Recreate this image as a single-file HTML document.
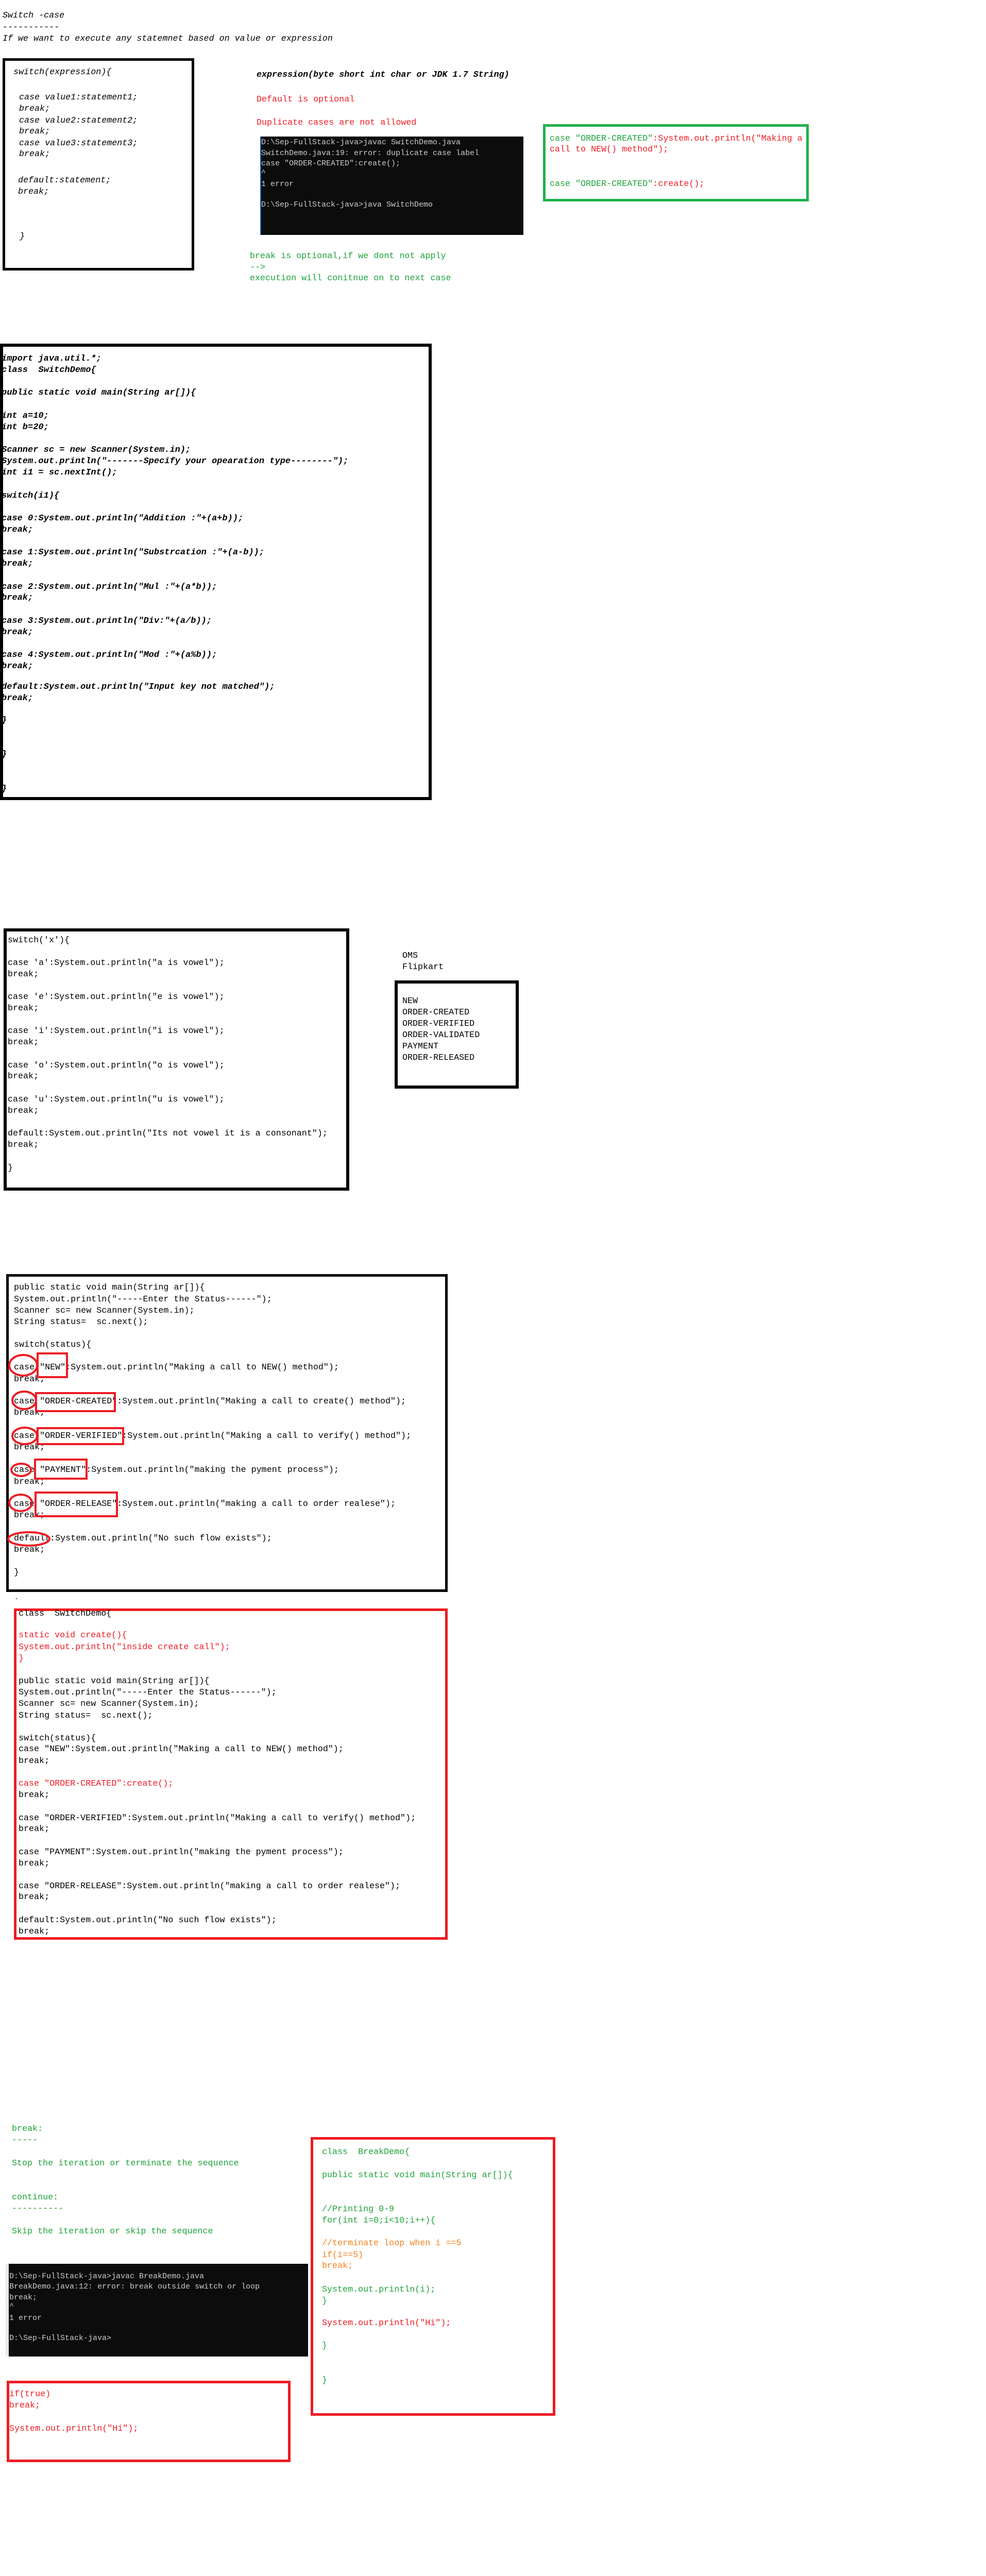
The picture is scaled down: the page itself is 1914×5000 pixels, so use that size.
<!DOCTYPE html>
<html><head><meta charset="utf-8">
<style>
html,body{margin:0;padding:0;background:#fff;}
body{width:1914px;height:5000px;position:relative;overflow:hidden;}
.t{position:absolute;white-space:pre;font-family:"Liberation Mono",monospace;font-size:16.7px;line-height:22px;color:#000;}
.i{font-style:italic;}
.b{font-weight:bold;}
.r{color:#ed1c24;}
.g{color:#1fa33a;}
.o{color:#f58220;}
.box{position:absolute;box-sizing:border-box;}
.term{position:absolute;background:#0c0c0c;}
.tt{position:absolute;white-space:pre;font-family:"Liberation Mono",monospace;font-size:15px;line-height:20px;color:#cccccc;}
.s2{font-size:17px;font-style:italic;font-weight:bold;}
.s3{font-size:16.7px;}
</style></head><body>

<!-- Section 1 -->
<div class="t i" style="left:5px;top:20px">Switch -case</div>
<div class="t" style="left:5px;top:43px">-----------</div>
<div class="t i" style="left:5px;top:65px">If we want to execute any statemnet based on value or expression</div>

<div class="box" style="left:5px;top:113px;width:372px;height:412px;border:5px solid #000;"></div>
<div class="t i" style="left:26px;top:130px">switch(expression){</div>
<div class="t i" style="left:37px;top:179px">case value1:statement1;</div>
<div class="t i" style="left:37px;top:201px">break;</div>
<div class="t i" style="left:37px;top:224px">case value2:statement2;</div>
<div class="t i" style="left:37px;top:245px">break;</div>
<div class="t i" style="left:37px;top:268px">case value3:statement3;</div>
<div class="t i" style="left:37px;top:289px">break;</div>
<div class="t i" style="left:35px;top:340px">default:statement;</div>
<div class="t i" style="left:35px;top:362px">break;</div>
<div class="t i" style="left:38px;top:449px">}</div>

<div class="t i b" style="left:498px;top:135px">expression(byte short int char or JDK 1.7 String)</div>
<div class="t r" style="left:498px;top:183px">Default is optional</div>
<div class="t r" style="left:498px;top:228px">Duplicate cases are not allowed</div>

<div class="term" style="left:506px;top:265px;width:510px;height:191px;"></div>
<div style="position:absolute;left:505px;top:265px;width:2px;height:191px;background:#1e5fb4"></div>
<div class="tt" style="left:507px;top:267px">D:\Sep-FullStack-java&gt;javac SwitchDemo.java</div>
<div class="tt" style="left:507px;top:288px">SwitchDemo.java:19: error: duplicate case label</div>
<div class="tt" style="left:507px;top:308px">case "ORDER-CREATED":create();</div>
<div class="tt" style="left:507px;top:326px">^</div>
<div class="tt" style="left:507px;top:348px">1 error</div>
<div class="tt" style="left:507px;top:388px">D:\Sep-FullStack-java&gt;java SwitchDemo</div>

<div class="box" style="left:1054px;top:241px;width:516px;height:150px;border:5px solid #22b14c;"></div>
<div class="t" style="left:1067px;top:259px"><span class="g">case "ORDER-CREATED"</span><span class="r">:System.out.println("Making a</span></div>
<div class="t r" style="left:1067px;top:280px">call to NEW() method");</div>
<div class="t" style="left:1067px;top:347px"><span class="g">case "ORDER-CREATED"</span><span class="r">:create();</span></div>

<div class="t g" style="left:485px;top:487px">break is optional,if we dont not apply</div>
<div class="t g" style="left:485px;top:509px">--&gt;</div>
<div class="t g" style="left:485px;top:530px">execution will conitnue on to next case</div>

<!-- Section 2 -->
<div class="box" style="left:0px;top:667px;width:838px;height:886px;border:6px solid #000;"></div>
<div class="t s2" style="left:3px;top:686px">import java.util.*;</div>
<div class="t s2" style="left:3px;top:708px">class  SwitchDemo{</div>
<div class="t s2" style="left:3px;top:752px">public static void main(String ar[]){</div>
<div class="t s2" style="left:3px;top:797px">int a=10;</div>
<div class="t s2" style="left:3px;top:819px">int b=20;</div>
<div class="t s2" style="left:3px;top:863px">Scanner sc = new Scanner(System.in);</div>
<div class="t s2" style="left:3px;top:885px">System.out.println("-------Specify your opearation type--------");</div>
<div class="t s2" style="left:3px;top:907px">int i1 = sc.nextInt();</div>
<div class="t s2" style="left:3px;top:952px">switch(i1){</div>
<div class="t s2" style="left:3px;top:996px">case 0:System.out.println("Addition :"+(a+b));</div>
<div class="t s2" style="left:3px;top:1018px">break;</div>
<div class="t s2" style="left:3px;top:1062px">case 1:System.out.println("Substrcation :"+(a-b));</div>
<div class="t s2" style="left:3px;top:1084px">break;</div>
<div class="t s2" style="left:3px;top:1129px">case 2:System.out.println("Mul :"+(a*b));</div>
<div class="t s2" style="left:3px;top:1150px">break;</div>
<div class="t s2" style="left:3px;top:1195px">case 3:System.out.println("Div:"+(a/b));</div>
<div class="t s2" style="left:3px;top:1217px">break;</div>
<div class="t s2" style="left:3px;top:1261px">case 4:System.out.println("Mod :"+(a%b));</div>
<div class="t s2" style="left:3px;top:1283px">break;</div>
<div class="t s2" style="left:3px;top:1323px">default:System.out.println("Input key not matched");</div>
<div class="t s2" style="left:3px;top:1345px">break;</div>
<div class="t s2" style="left:3px;top:1388px">}</div>
<div class="t s2" style="left:3px;top:1454px">}</div>
<div class="t s2" style="left:3px;top:1521px">}</div>

<!-- Section 3 -->
<div class="box" style="left:7px;top:1802px;width:671px;height:509px;border:6px solid #000;"></div>
<div class="t s3" style="left:15px;top:1815px">switch('x'){</div>
<div class="t s3" style="left:15px;top:1859px">case 'a':System.out.println("a is vowel");</div>
<div class="t s3" style="left:15px;top:1881px">break;</div>
<div class="t s3" style="left:15px;top:1925px">case 'e':System.out.println("e is vowel");</div>
<div class="t s3" style="left:15px;top:1947px">break;</div>
<div class="t s3" style="left:15px;top:1991px">case 'i':System.out.println("i is vowel");</div>
<div class="t s3" style="left:15px;top:2013px">break;</div>
<div class="t s3" style="left:15px;top:2058px">case 'o':System.out.println("o is vowel");</div>
<div class="t s3" style="left:15px;top:2079px">break;</div>
<div class="t s3" style="left:15px;top:2124px">case 'u':System.out.println("u is vowel");</div>
<div class="t s3" style="left:15px;top:2146px">break;</div>
<div class="t s3" style="left:15px;top:2190px">default:System.out.println("Its not vowel it is a consonant");</div>
<div class="t s3" style="left:15px;top:2212px">break;</div>
<div class="t s3" style="left:15px;top:2257px">}</div>

<div class="t s3" style="left:781px;top:1845px">OMS</div>
<div class="t s3" style="left:781px;top:1867px">Flipkart</div>
<div class="box" style="left:766px;top:1903px;width:241px;height:210px;border:6px solid #000;"></div>
<div class="t s3" style="left:781px;top:1933px">NEW</div>
<div class="t s3" style="left:781px;top:1955px">ORDER-CREATED</div>
<div class="t s3" style="left:781px;top:1977px">ORDER-VERIFIED</div>
<div class="t s3" style="left:781px;top:1999px">ORDER-VALIDATED</div>
<div class="t s3" style="left:781px;top:2021px">PAYMENT</div>
<div class="t s3" style="left:781px;top:2043px">ORDER-RELEASED</div>

<!-- Section 4 -->
<div class="box" style="left:12px;top:2473px;width:857px;height:617px;border:5px solid #000;"></div>
<div class="t" style="left:27px;top:2489px">public static void main(String ar[]){</div>
<div class="t" style="left:27px;top:2512px">System.out.println("-----Enter the Status------");</div>
<div class="t" style="left:27px;top:2534px">Scanner sc= new Scanner(System.in);</div>
<div class="t" style="left:27px;top:2556px">String status=  sc.next();</div>
<div class="t" style="left:27px;top:2600px">switch(status){</div>
<div class="t" style="left:27px;top:2644px">case "NEW":System.out.println("Making a call to NEW() method");</div>
<div class="t" style="left:27px;top:2667px">break;</div>
<div class="t" style="left:27px;top:2710px">case "ORDER-CREATED":System.out.println("Making a call to create() method");</div>
<div class="t" style="left:27px;top:2732px">break;</div>
<div class="t" style="left:27px;top:2777px">case "ORDER-VERIFIED":System.out.println("Making a call to verify() method");</div>
<div class="t" style="left:27px;top:2799px">break;</div>
<div class="t" style="left:27px;top:2843px">case "PAYMENT":System.out.println("making the pyment process");</div>
<div class="t" style="left:27px;top:2866px">break;</div>
<div class="t" style="left:27px;top:2909px">case "ORDER-RELEASE":System.out.println("making a call to order realese");</div>
<div class="t" style="left:27px;top:2931px">break;</div>
<div class="t" style="left:27px;top:2976px">default:System.out.println("No such flow exists");</div>
<div class="t" style="left:27px;top:2998px">break;</div>
<div class="t" style="left:27px;top:3042px">}</div>

<svg style="position:absolute;left:0;top:0" width="1914" height="5000">
<g fill="none" stroke="#ed1c24" stroke-width="4">
<rect x="73" y="2627" width="57" height="46"/>
<rect x="70" y="2704" width="153" height="35"/>
<rect x="73" y="2772" width="166" height="31"/>
<rect x="68" y="2833" width="100" height="37"/>
<rect x="69" y="2897" width="158" height="46"/>
<ellipse cx="45" cy="2650" rx="27" ry="20"/>
<ellipse cx="47" cy="2718" rx="23" ry="17"/>
<ellipse cx="48" cy="2787" rx="24" ry="16"/>
<ellipse cx="41" cy="2853" rx="19" ry="12"/>
<ellipse cx="40" cy="2917" rx="22" ry="16"/>
<ellipse cx="56" cy="2987" rx="40" ry="13"/>
</g>
</svg>

<!-- Section 5 -->
<div class="t" style="left:27px;top:3100px">`</div>
<div class="box" style="left:27px;top:3122px;width:842px;height:643px;border:5px solid #ed1c24;"></div>
<div class="t" style="left:36px;top:3122px">class  SwitchDemo{</div>
<div class="t r" style="left:36px;top:3164px">static void create(){</div>
<div class="t r" style="left:36px;top:3187px">System.out.println("inside create call");</div>
<div class="t r" style="left:36px;top:3209px">}</div>
<div class="t" style="left:36px;top:3253px">public static void main(String ar[]){</div>
<div class="t" style="left:36px;top:3275px">System.out.println("-----Enter the Status------");</div>
<div class="t" style="left:36px;top:3297px">Scanner sc= new Scanner(System.in);</div>
<div class="t" style="left:36px;top:3320px">String status=  sc.next();</div>
<div class="t" style="left:36px;top:3364px">switch(status){</div>
<div class="t" style="left:36px;top:3385px">case "NEW":System.out.println("Making a call to NEW() method");</div>
<div class="t" style="left:36px;top:3408px">break;</div>
<div class="t r" style="left:36px;top:3452px">case "ORDER-CREATED":create();</div>
<div class="t" style="left:36px;top:3474px">break;</div>
<div class="t" style="left:36px;top:3519px">case "ORDER-VERIFIED":System.out.println("Making a call to verify() method");</div>
<div class="t" style="left:36px;top:3540px">break;</div>
<div class="t" style="left:36px;top:3585px">case "PAYMENT":System.out.println("making the pyment process");</div>
<div class="t" style="left:36px;top:3607px">break;</div>
<div class="t" style="left:36px;top:3651px">case "ORDER-RELEASE":System.out.println("making a call to order realese");</div>
<div class="t" style="left:36px;top:3672px">break;</div>
<div class="t" style="left:36px;top:3717px">default:System.out.println("No such flow exists");</div>
<div class="t" style="left:36px;top:3739px">break;</div>

<!-- Section 6 -->
<div class="t g" style="left:23px;top:4122px">break:</div>
<div class="t g" style="left:23px;top:4144px">-----</div>
<div class="t g" style="left:23px;top:4189px">Stop the iteration or terminate the sequence</div>
<div class="t g" style="left:23px;top:4255px">continue:</div>
<div class="t g" style="left:23px;top:4277px">----------</div>
<div class="t g" style="left:23px;top:4321px">Skip the iteration or skip the sequence</div>

<div class="term" style="left:17px;top:4394px;width:581px;height:180px;"></div>
<div style="position:absolute;left:11px;top:4394px;width:6px;height:180px;background:#e8e8e8"></div>
<div class="tt" style="left:18px;top:4409px">D:\Sep-FullStack-java&gt;javac BreakDemo.java</div>
<div class="tt" style="left:18px;top:4429px">BreakDemo.java:12: error: break outside switch or loop</div>
<div class="tt" style="left:18px;top:4450px">break;</div>
<div class="tt" style="left:18px;top:4467px">^</div>
<div class="tt" style="left:18px;top:4490px">1 error</div>
<div class="tt" style="left:18px;top:4529px">D:\Sep-FullStack-java&gt;</div>

<div class="box" style="left:13px;top:4621px;width:551px;height:158px;border:5px solid #ed1c24;"></div>
<div class="t r" style="left:18px;top:4637px">if(true)</div>
<div class="t r" style="left:18px;top:4659px">break;</div>
<div class="t r" style="left:18px;top:4704px">System.out.println("Hi");</div>

<div class="box" style="left:603px;top:4148px;width:475px;height:541px;border:5px solid #ed1c24;"></div>
<div class="t g" style="left:625px;top:4167px">class  BreakDemo{</div>
<div class="t g" style="left:625px;top:4212px">public static void main(String ar[]){</div>
<div class="t g" style="left:625px;top:4278px">//Printing 0-9</div>
<div class="t g" style="left:625px;top:4300px">for(int i=0;i&lt;10;i++){</div>
<div class="t o" style="left:625px;top:4344px">//terminate loop when i ==5</div>
<div class="t o" style="left:625px;top:4367px">if(i==5)</div>
<div class="t o" style="left:625px;top:4388px">break;</div>
<div class="t g" style="left:625px;top:4434px">System.out.println(i);</div>
<div class="t g" style="left:625px;top:4456px">}</div>
<div class="t r" style="left:625px;top:4499px">System.out.println("Hi");</div>
<div class="t g" style="left:625px;top:4543px">}</div>
<div class="t g" style="left:625px;top:4610px">}</div>

</body></html>
